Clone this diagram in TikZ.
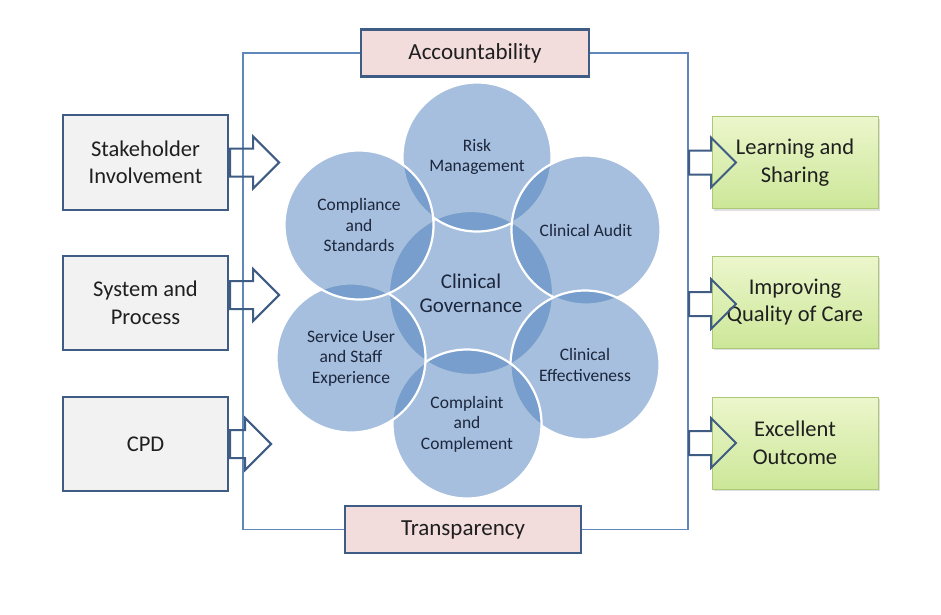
\documentclass[tikz,border=0pt]{standalone}
\usepackage{fontspec}
\setmainfont{Carlito}
\usetikzlibrary{shapes.arrows,shadows}
\definecolor{boxline}{RGB}{62,92,132}
\definecolor{frameblue}{RGB}{95,135,185}
\definecolor{circblue}{RGB}{66,120,184}
\definecolor{pinkfill}{RGB}{242,221,220}
\definecolor{greentop}{RGB}{236,246,204}
\definecolor{greenbot}{RGB}{204,231,152}
\definecolor{greenline}{RGB}{172,200,118}
\definecolor{navytext}{RGB}{28,38,60}

\begin{document}
\begin{tikzpicture}[x=1pt, y=-1pt,
        inbox/.style={draw=boxline, line width=2.2pt, fill=black!5, minimum width=165pt, minimum height=94.5pt, align=center, text=black!88, font=\fontsize{22.5}{27.5}\selectfont},
        outbox/.style={draw=greenline, line width=1pt, top color=greentop, bottom color=greenbot, minimum width=166pt, minimum height=92pt, align=center, text=black!88, font=\fontsize{22.5}{27.5}\selectfont, drop shadow={opacity=0.25, shadow xshift=2pt, shadow yshift=-2pt}},
        tagbox/.style={draw=boxline, line width=2.2pt, fill=pinkfill, minimum height=47pt, text=black!88, font=\fontsize{23}{27}\selectfont},
        bubble/.style={circle, draw=white, line width=2.2pt, fill=circblue, fill opacity=0.47, text opacity=1, minimum size=149pt, align=center, text=navytext, font=\fontsize{17.5}{20.5}\selectfont},
        blockarrow/.style={single arrow, draw=boxline, line width=2pt, inner xsep=0pt, single arrow head extend=12pt, anchor=tail},
        frame/.style={draw=frameblue, line width=1.2pt}
    ]
        \useasboundingbox (0,0) rectangle (941,614);

        \node[tagbox, minimum width=228pt] (acc) at (475,53) {Accountability};
        \node[tagbox, minimum width=236pt] (trans) at (463,529.5) {Transparency};
        \coordinate (ftl) at (243,53);
        \coordinate (ftr) at (688,53);
        \draw[frame] (acc) -- (ftl) |- (trans);
        \draw[frame] (acc) -- (ftr) |- (trans);

        \node[bubble, minimum size=164pt, font=\fontsize{21}{24}\selectfont] (gov) at (471,293) {Clinical\\Governance};
        \node[bubble] (risk) at (477,157) {Risk\\Management};
        \node[bubble] (audit) at (586,230) {Clinical Audit};
        \node[bubble] (effect) at (585,365) {Clinical\\Effectiveness};
        \node[bubble] (complaint) at (467,424) {Complaint\\and\\Complement};
        \node[bubble] (service) at (351,358) {Service User\\and Staff\\Experience};
        \node[bubble] (comply) at (359,225) {Compliance\\and\\Standards};

        \node[inbox] (stake) at (145.5,162.5) {Stakeholder\\Involvement};
        \node[inbox] (sys) at (145.5,303) {System and\\Process};
        \node[inbox] (cpd) at (145.5,444) {CPD};

        \node[blockarrow, minimum height=49pt, inner ysep=13pt] (sa) at (stake.east) {};
        \node[blockarrow, minimum height=49pt, inner ysep=13pt] (pa) at ([yshift=8pt]sys.east) {};
        \node[blockarrow, minimum height=41pt, inner ysep=13pt] (ca) at (cpd.east) {};

        \node[outbox] (learn) at (795,162.5) {Learning and\\Sharing};
        \node[outbox] (quality) at (795,302) {Improving\\Quality of Care};
        \node[outbox] (outcome) at (795,443) {Excellent\\Outcome};

        \node[blockarrow, minimum height=47pt, inner ysep=11pt, single arrow head extend=13pt] (la) at (learn.west -| ftr) {};
        \node[blockarrow, minimum height=47pt, inner ysep=11pt, single arrow head extend=13pt] (qa) at ([yshift=-2pt]quality.west -| ftr) {};
        \node[blockarrow, minimum height=47pt, inner ysep=11pt, single arrow head extend=13pt] (oa) at (outcome.west -| ftr) {};
    \end{tikzpicture}
\end{document}
